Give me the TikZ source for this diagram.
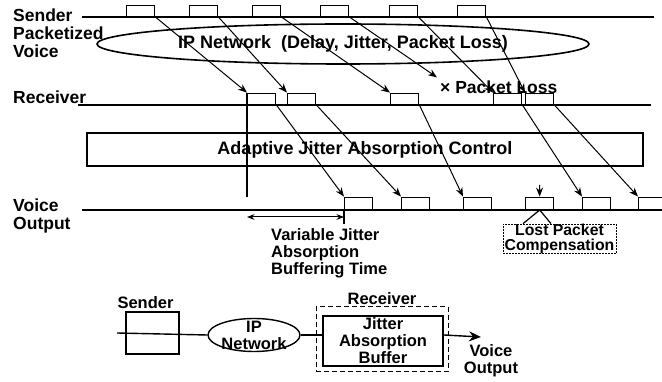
\documentclass[tikz,border=0pt]{standalone}
\usepackage{fontspec}
\setmainfont{Liberation Sans}
\usetikzlibrary{arrows.meta,positioning,calc,shapes.geometric}

\begin{document}
\begin{tikzpicture}[x=1pt,y=-1pt,>=Stealth,
  tline/.style={line width=2.4pt},
  pkt/.style={draw,line width=1.4pt,minimum width=28pt,minimum height=11pt,inner sep=0pt,anchor=south west},
  flow/.style={-{Stealth[length=9pt,width=7pt]},line width=1pt},
  lbl/.style={font=\fontsize{17.5}{18}\selectfont\bfseries,inner sep=0pt,align=left},
  sub/.style={font=\fontsize{16.5}{17}\selectfont\bfseries,inner sep=0pt,align=center}]
  \useasboundingbox (0,0) rectangle (662,382);
  % labels of the time lines
  \node[lbl,anchor=north west] (sndlbl) at (13,8.5) {Sender\\Packetized\\Voice};
  \node[lbl,anchor=west] (rcvlbl) at (13,97) {Receiver};
  \node[lbl,anchor=north west] (outlbl) at (13,198.5) {Voice\\Output};
  \coordinate (sL) at (82,17);  \coordinate (sR) at (654,17);
  \coordinate (rL) at (78,105); \coordinate (rR) at (651,105);
  \coordinate (vL) at (82,210); \coordinate (vR) at (662,210);
  \draw[tline] (sL) -- (sR);
  \draw[tline] (rL) -- (rR);
  \draw[tline] (vL) -- (vR);
  % packets
  \foreach \x [count=\i] in {126,189,252,320,389,457}
    \node[pkt] (s\i) at (\x,17) {};
  \foreach \x [count=\i] in {247,287,390,493,525}
    \node[pkt] (r\i) at (\x,105) {};
  \foreach \x [count=\i] in {344,401,463,525,582,638}
    \node[pkt,minimum height=12pt] (v\i) at (\x,210) {};
  % network and control
  \node[draw,ellipse,line width=1.6pt,minimum width=492pt,minimum height=40pt,inner sep=0pt,
    font=\fontsize{18}{18}\selectfont\bfseries] (net) at (343,44) {IP Network\ \ (Delay, Jitter, Packet Loss)};
  \node[lbl,anchor=west,inner sep=3pt] (loss) at (437,87) {× Packet Loss};
  \node[draw,line width=2pt,minimum width=556pt,minimum height=33pt,
    font=\fontsize{18}{18}\selectfont\bfseries] (ctrl) at (365,149.5) {Adaptive Jitter Absorption Control};
  % delays
  \foreach \a/\b in {1/1,2/2,3/3,5/4,6/5}
    \draw[flow] (s\a.south east) -- (r\b.north west);
  \draw[flow] (s4.south east) -- (loss.north west);
  \foreach \a/\b in {1/1,2/2,3/3,4/5,5/6}
    \draw[flow] (r\a.south east) -- (v\b.north west);
  \coordinate (lostTop) at (539.5,185);
  \draw[flow] (lostTop) -- (v4.north);
  % buffering time
  \draw[line width=1.2pt] (r1.north west) -- (r1.north west |- v1.north);
  \coordinate (buf) at (0,217);
  \draw[<->,line width=1pt] (r1.west |- buf) -- (v1.west |- buf);
  \draw[line width=1.2pt] (v1.south west) -- ++(0,14);
  \node[sub,align=left,anchor=north west] (buflbl) at (271,228.5) {Variable Jitter\\Absorption\\Buffering Time};
  \node[draw,dash pattern=on 2pt off 1pt,line width=1pt,minimum width=113pt,minimum height=28pt,
    font=\fontsize{15.8}{15}\selectfont\bfseries,align=center,inner sep=0pt] (lpc) at (559.5,239) {Lost Packet\\Compensation};
  \draw[line width=1.2pt] ([xshift=-36.5pt]lpc.north) -- (v4.south) -- ([xshift=-8.5pt]lpc.north);
  % bottom block diagram
  \node[draw,line width=1.4pt,minimum width=53pt,minimum height=42pt] (sbox) at (152.5,333) {};
  \node[sub,above=2pt of sbox,xshift=-7pt] (sbxlbl) {Sender};
  \node[draw,ellipse,line width=1.4pt,minimum width=92pt,minimum height=33pt,inner sep=0pt] (ipnet) at (254,335) {};
  \node[sub] (iplbl) at (ipnet.center) {IP\\Network};
  \node[draw,dash pattern=on 5pt off 3pt,line width=1pt,minimum width=132pt,minimum height=65pt] (rcvbox) at (382,339.5) {};
  \node[sub,above=2pt of rcvbox] (rbxlbl) {Receiver};
  \node[draw,sub,line width=1.8pt,minimum width=120pt,minimum height=50pt] (jab) at (383,341) {Jitter\\Absorption\\Buffer};
  \coordinate (bin) at (117,333);
  \draw[line width=1.4pt] (bin) -- (ipnet.west);
  \draw[line width=1.4pt] (ipnet.east) -- (ipnet.east -| jab.west);
  \node[sub,anchor=north] (vout) at (491,344) {Voice\\Output};
  \coordinate (outTip) at (481,337);
  \draw[line width=1.4pt,-{Stealth[length=12pt,width=10pt]}] (jab.east |- ipnet.east) -- (outTip);
\end{tikzpicture}
\end{document}
